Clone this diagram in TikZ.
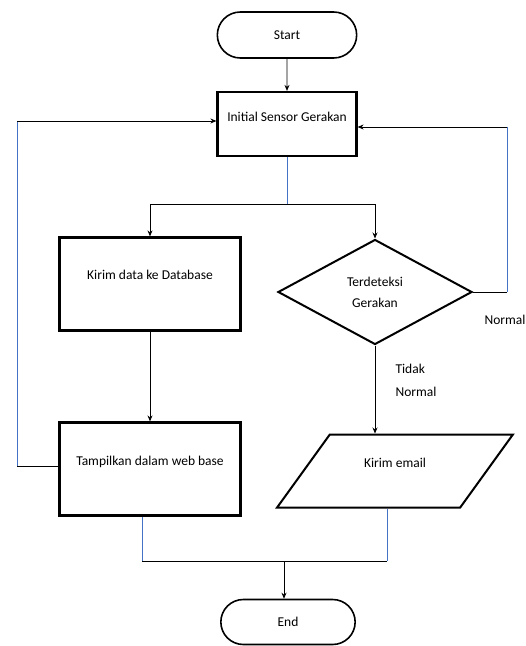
\documentclass[tikz,border=0pt]{standalone}
\usepackage{fontspec}
\setmainfont{Carlito}
\usetikzlibrary{shapes.geometric,shapes.misc,arrows.meta}
\definecolor{flowblue}{RGB}{68,114,196}

\begin{document}
\begin{tikzpicture}[x=1pt,y=-1pt,line width=0.8pt,
    every node/.style={font=\fontsize{13.5}{16}\selectfont},
    term/.style={rounded rectangle,draw,line width=1.6pt,minimum width=146pt,minimum height=46pt},
    proc/.style={rectangle,draw,line width=2.2pt,minimum width=181pt,minimum height=93pt},
    decide/.style={diamond,draw,line width=2pt,minimum width=194pt,minimum height=105pt,inner sep=0pt,align=center},
    io/.style={trapezium,trapezium left angle=50,trapezium right angle=130,trapezium stretches=true,
      draw,line width=2pt,minimum width=236pt,minimum height=73pt},
    arr/.style={-{Stealth[length=6pt,width=5pt]}},
    blueline/.style={draw=flowblue}]

\useasboundingbox (0,0) rectangle (526,646);

\node[term] (start) at (287,35) {Start};
\node[proc,minimum width=139pt,minimum height=64pt,text depth=15pt] (init) at (287,124) {Initial Sensor Gerakan};
\node[proc,text depth=19pt] (kirim) at (150,284) {Kirim data ke Database};
\node[proc,text depth=16pt] (tamp) at (150,469) {Tampilkan dalam web base};
\node[decide] (cek) at (375,292) {Terdeteksi\\[5pt]Gerakan};
\node[io,text depth=17pt] (mail) at (395,471) {Kirim email};
\node[term,minimum width=141pt,minimum height=45pt] (end) at (288,622) {End};

\node (lnormal) at (505,320) {Normal};
\node[align=left] (ltidak) at (416,380) {Tidak\\[7pt]Normal};

\coordinate (split) at (287,204);
\coordinate (lbot) at (17,466);
\coordinate (ltop) at (17,121);
\coordinate (rbot) at (507,292);
\coordinate (rtop) at (507,127);
\coordinate (jl) at (142,561);
\coordinate (jr) at (387,561);
\coordinate (join) at (284,561);

% start to init
\draw[arr] (start) -- (init);

% init splits to both branches
\draw[blueline] (init.south) -- (split);
\draw[arr] (split) -| (kirim.north);
\draw[arr] (split) -| (cek.north);

% left branch
\draw[arr] (kirim) -- (tamp);
\draw (tamp.west |- lbot) -- (lbot);
\draw[blueline] (lbot) -- (ltop);
\draw[arr] (ltop) -- (init.west |- ltop);

% right branch: Normal goes back
\draw (cek.east) -- (rbot);
\draw[blueline] (rbot) -- (rtop);
\draw[arr] (rtop) -- (init.east |- rtop);

% Tidak Normal
\draw[arr] (cek.south) -- (cek.south |- mail.north);

% both to end
\draw[blueline] (tamp.south -| jl) -- (jl);
\draw[blueline] (mail.south -| jr) -- (jr);
\draw (jl) -- (jr);
\draw[arr] (join) -- (join |- end.north);

\end{tikzpicture}
\end{document}
